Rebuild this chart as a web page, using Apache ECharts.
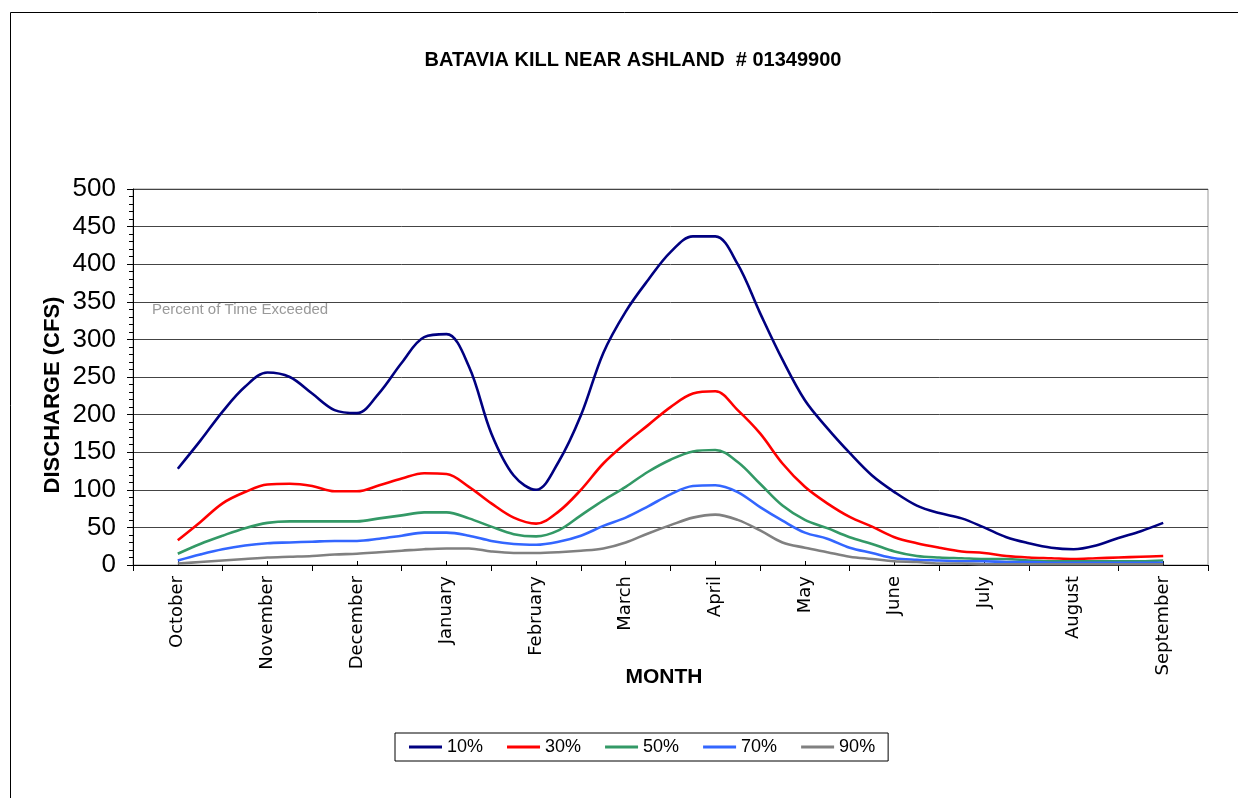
<!DOCTYPE html>
<html>
<head>
<meta charset="utf-8">
<script src="https://cdn.jsdelivr.net/npm/echarts@6/dist/echarts.min.js"></script>
<style>
html,body{margin:0;padding:0;background:#fff;}
#chart{width:1238px;height:798px;}
</style>
</head>
<body>
<div id="chart"></div>
<script>
// Month categories (axis labels)
const months = ['October','November','December','January','February','March','April','May','June','July','August','September'];
// Sample positions: quarter-month steps from October centre to September centre
const samplesPerMonth = 4;
const yTicks = [0,50,100,150,200,250,300,350,400,450,500];

// Discharge (cfs) by percent of time exceeded, read at quarter-month steps
const p10 = [128,165,204,237,256,250,228,206,202,229,269,303,307,264,175,119,100,137,199,282,337,379,416,437,437,400,335,273,219,182,149,119,97,79,69,62,50,37,29,23,21,26,36,45,56];
const p30 = [33,57,82,97,107,108,105,98,98,106,115,122,121,104,82,63,55,71,100,135,162,186,210,228,231,206,175,135,104,82,64,51,37,29,23,18,16,12,10,9,8,9,10,11,12];
const p50 = [15,28,39,49,56,58,58,58,58,62,66,70,70,62,51,41,38,46,66,86,104,124,140,151,153,137,108,79,60,49,37,28,18,12,10,9,8,8,6,5,5,5,5,5,6];
const p70 = [6,14,21,26,29,30,31,32,32,35,39,43,43,39,32,28,27,31,39,52,63,78,94,105,106,97,77,59,43,35,23,16,9,7,6,5,5,4,4,3,3,3,3,3,3];
const p90 = [2,4,6,8,10,11,12,14,15,17,19,21,22,22,18,16,16,17,19,22,30,42,53,63,67,60,46,30,23,17,11,8,5,4,2,2,1,1,1,1,1,1,1,1,1];

const seriesDefs = [
  {name:'10%', data:p10, color:'#000080'},
  {name:'30%', data:p30, color:'#FF0000'},
  {name:'50%', data:p50, color:'#339966'},
  {name:'70%', data:p70, color:'#3366FF'},
  {name:'90%', data:p90, color:'#808080'}
];

function toPairs(arr){
  return arr.map((v,i)=>[0.5 + i/samplesPerMonth, v]);
}

const chart = echarts.init(document.getElementById('chart'), null, {renderer:'canvas'});
const option = {
  backgroundColor:'#fff',
  animation:false,
  title:{
    text:'BATAVIA KILL NEAR ASHLAND  # 01349900',
    left:628, top:45, textAlign:'center',
    textStyle:{fontFamily:"'Liberation Sans',Arial,sans-serif", fontWeight:'bold', fontSize:20, color:'#000'}
  },
  grid:{left:133, right:30, top:189, bottom:233, show:true, borderColor:'#999', borderWidth:1},
  legend:{
    left:395, top:733, width:490,
    padding:[5,13,5,14],
    borderColor:'#000', borderWidth:1,
    icon:'rect', itemWidth:33, itemHeight:3, itemGap:24,
    textStyle:{fontFamily:"'Liberation Sans',Arial,sans-serif", fontSize:18, color:'#000'},
    data:seriesDefs.map(s=>s.name)
  },
  xAxis:[
    {
      type:'category', data:months, boundaryGap:true, position:'bottom',
      axisLine:{lineStyle:{color:'#000', width:1}},
      axisTick:{show:true, length:6, lineStyle:{color:'#000'}},
      axisLabel:{rotate:90, margin:11, fontSize:18, color:'#000', fontFamily:"'DejaVu Sans',sans-serif"},
      splitLine:{show:false}
    },
    {
      type:'value', min:0, max:12, show:false
    },
    {
      type:'category', data:months, boundaryGap:true, position:'bottom',
      axisLine:{show:false},
      axisTick:{show:true, alignWithLabel:true, inside:true, length:4, lineStyle:{color:'#000'}},
      axisLabel:{show:false}, splitLine:{show:false}
    }
  ],
  yAxis:{
    type:'value', min:yTicks[0], max:yTicks[yTicks.length-1], interval:50,
    axisLine:{show:true, lineStyle:{color:'#000'}},
    axisTick:{show:true, length:6, lineStyle:{color:'#000'}},
    minorTick:{show:true, splitNumber:5, length:4, lineStyle:{color:'#000'}},
    axisLabel:{fontSize:26, color:'#000', margin:17, fontFamily:"'Liberation Sans',Arial,sans-serif"},
    splitLine:{show:true, lineStyle:{color:'#444', width:1}}
  },
  graphic:[
    {type:'rect', shape:{x:10.5, y:12.5, width:1250, height:800}, style:{fill:'none', stroke:'#000', lineWidth:1}, silent:true, z:-1},
    {type:'text', left:152, top:302, style:{text:'Percent of Time Exceeded', font:"15px 'Liberation Sans',Arial,sans-serif", fill:'#999'}},
    {type:'text', x:53, y:395, rotation:Math.PI/2,
      style:{text:'DISCHARGE (CFS)', font:"bold 22px 'Liberation Sans',Arial,sans-serif", fill:'#000', align:'center', verticalAlign:'middle'}},
    {type:'text', x:664, y:677,
      style:{text:'MONTH', font:"bold 21px 'Liberation Sans',Arial,sans-serif", fill:'#000', align:'center', verticalAlign:'middle'}}
  ],
  series:seriesDefs.map(s=>({
    name:s.name, type:'line', xAxisIndex:1, data:toPairs(s.data),
    smooth:0.35, showSymbol:false, symbol:'none',
    lineStyle:{color:s.color, width:2.6}, itemStyle:{color:s.color}
  }))
};
chart.setOption(option);
</script>
</body>
</html>
